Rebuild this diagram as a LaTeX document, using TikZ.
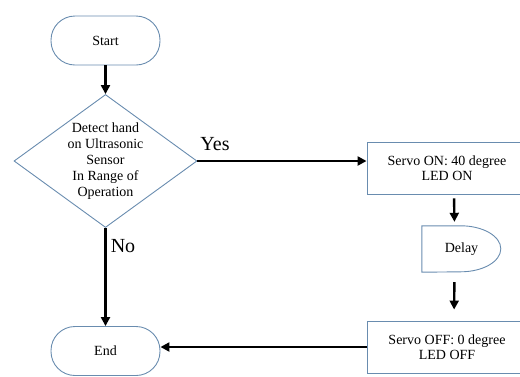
\documentclass[tikz,border=0pt]{standalone}
\usepackage{fontspec}
\setmainfont{Liberation Serif}
\usetikzlibrary{shapes.geometric,arrows.meta}
\definecolor{edgeblue}{RGB}{105,140,175}
\tikzset{
	terminal/.style = {draw = edgeblue, line width = 0.9pt, rounded corners = 24pt,
		minimum width = 109pt, minimum height = 49pt, font = \fontsize{14}{16}\selectfont},
	decision/.style = {draw = edgeblue, line width = 0.9pt, diamond, aspect = 1.376, inner sep = 0pt,
		minimum width = 183pt, minimum height = 133pt, align = center, font = \fontsize{14}{16}\selectfont},
	process/.style  = {draw = edgeblue, line width = 0.9pt, minimum width = 160pt, minimum height = 52pt,
		align = center, font = \fontsize{14}{15}\selectfont},
	flow/.style     = {line width = 2.4pt, -{Triangle[length = 9pt, width = 9pt]}},
	branch/.style   = {font = \fontsize{20}{22}\selectfont}
}
\begin{document}
\begin{tikzpicture}[x = 1pt, y = -1pt]
	\useasboundingbox (0, 0) rectangle (520, 376);
	% terminals
	\node[terminal] (start) at (105.5, 40.5)  {Start};
	\node[terminal] (end)   at (105.5, 351)   {End};
	% decision
	\node[decision] (sensor) at (105.5, 161) {Detect hand\\on Ultrasonic\\Sensor\\In Range of\\Operation};
	% actions
	\node[process] (servoon)  at (447, 168) {Servo ON: 40 degree\\LED ON};
	\node[process] (servooff) at (447, 347) {Servo OFF: 0 degree\\LED OFF};
	% delay block
	\node[minimum width = 79pt, minimum height = 46pt, font = \fontsize{14}{16}\selectfont] (delay) at (461.5, 249) {Delay\hspace{10pt}};
	\draw[draw = edgeblue, line width = 0.9pt] (delay.north west) -- ++(39, 0)
		arc[start angle = 90, end angle = -90, x radius = 40pt, y radius = 23pt] -- (delay.south west) -- cycle;
	% connectors
	\draw[flow] (start) -- (sensor);
	\draw[flow] (sensor.east) -- (sensor.east -| servoon.west);
	\draw[flow, shorten <= 4pt, shorten >= 4pt] ([xshift = 7pt]servoon.south) -- ([xshift = -7pt]delay.north);
	\draw[flow, shorten <= 10pt, shorten >= 11pt] ([xshift = -7pt]delay.south) -- ([xshift = 7pt]servooff.north);
	\draw[flow] (servooff.west) -- (servooff.west -| end.east);
	\draw[flow] (sensor.south) -- (end.north);
	% branch labels
	\node[branch] (yes) at (215, 144) {Yes};
	\node[branch] (no)  at (123, 246) {No};
\end{tikzpicture}
\end{document}
